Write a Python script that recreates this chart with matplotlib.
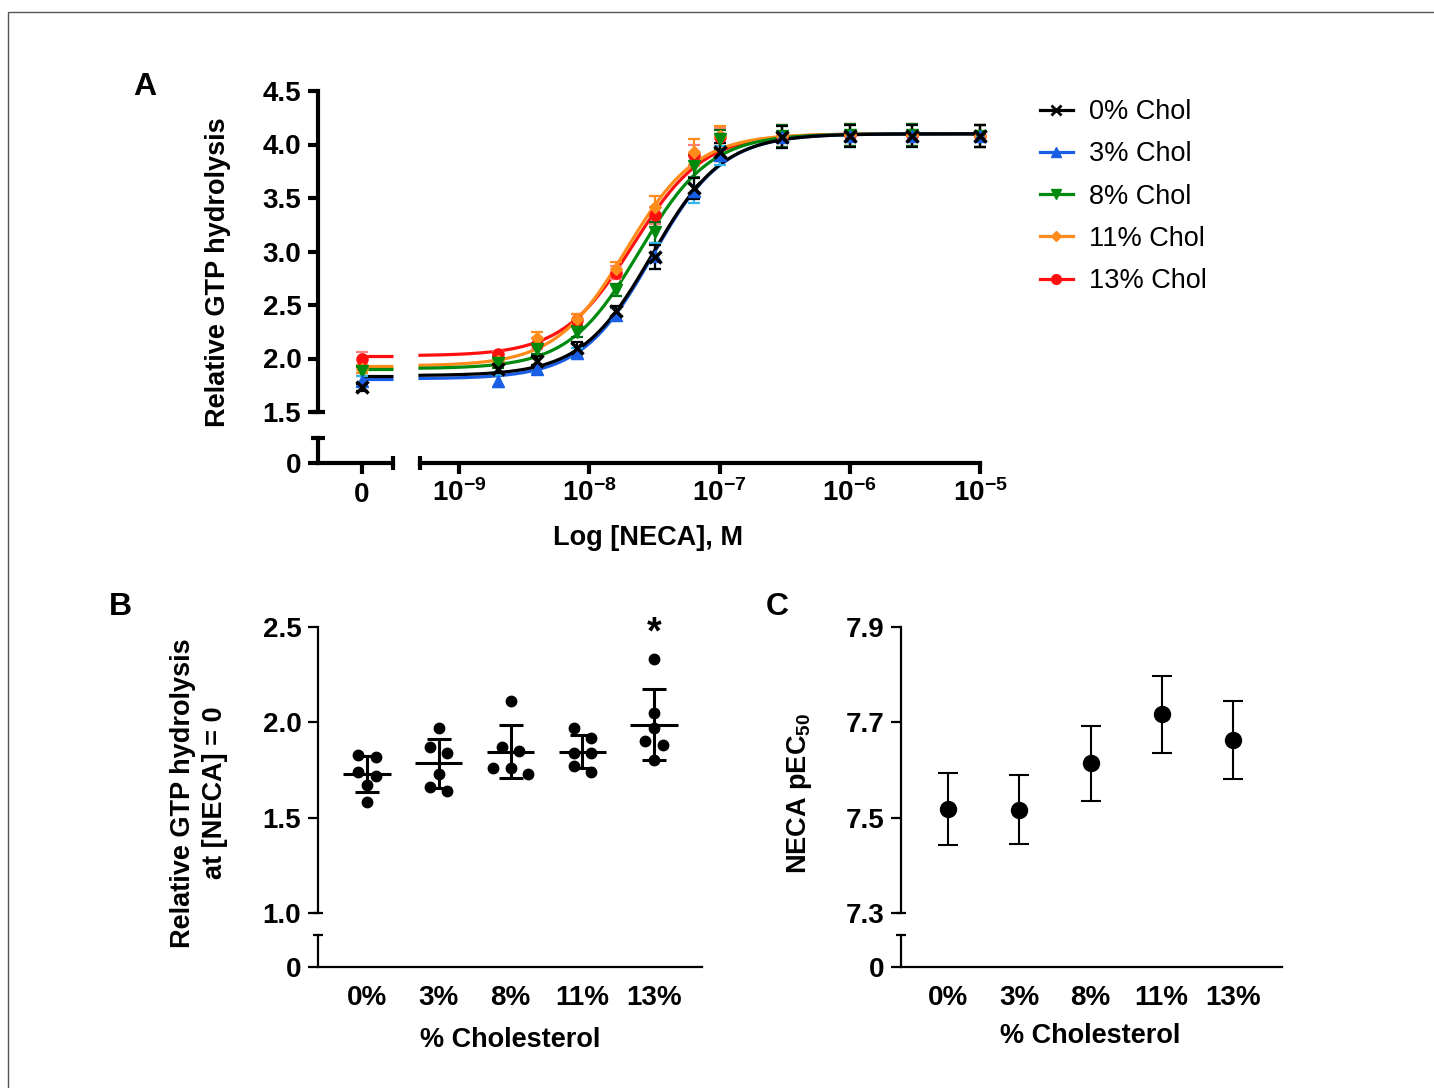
import matplotlib
matplotlib.use("Agg")
import matplotlib.pyplot as plt
import numpy as np
from matplotlib.patches import Rectangle

plt.rcParams['font.family'] = ['Liberation Sans', 'DejaVu Sans']
plt.rcParams['mathtext.fontset'] = 'custom'
plt.rcParams['mathtext.rm'] = 'Liberation Sans'
plt.rcParams['mathtext.bf'] = 'Liberation Sans:bold'

# ---- panel A data: NECA concentration response ----
conc = [0, 2e-9, 4e-9, 8e-9, 1.6e-8, 3.2e-8, 6.4e-8, 1e-7, 3e-7, 1e-6, 3e-6, 1e-5]
series_names = ['0% Chol', '3% Chol', '8% Chol', '11% Chol', '13% Chol']
gtp_0 = [1.73, 1.905, 1.98, 2.10, 2.44, 2.95, 3.59, 3.93, 4.07, 4.08, 4.08, 4.08]
gtp_3 = [1.79, 1.79, 1.90, 2.05, 2.41, 2.96, 3.57, 3.90, 4.07, 4.08, 4.08, 4.08]
gtp_8 = [1.88, 1.96, 2.09, 2.25, 2.64, 3.18, 3.80, 4.05, 4.08, 4.09, 4.09, 4.08]
gtp_11 = [1.90, 1.98, 2.19, 2.37, 2.84, 3.42, 3.93, 4.08, 4.08, 4.09, 4.09, 4.08]
gtp_13 = [2.00, 2.04, 2.14, 2.36, 2.80, 3.34, 3.90, 4.07, 4.08, 4.09, 4.09, 4.08]
sem_0 = [0.03, 0.04, 0.04, 0.05, 0.05, 0.11, 0.10, 0.08, 0.10, 0.10, 0.10, 0.10]
sem_3 = [0.05, 0.06, 0.04, 0.05, 0.06, 0.12, 0.12, 0.09, 0.10, 0.10, 0.10, 0.10]
sem_8 = [0.04, 0.05, 0.05, 0.05, 0.06, 0.10, 0.10, 0.09, 0.10, 0.10, 0.10, 0.10]
sem_11 = [0.04, 0.05, 0.06, 0.05, 0.06, 0.10, 0.12, 0.09, 0.10, 0.10, 0.10, 0.10]
sem_13 = [0.06, 0.03, 0.05, 0.06, 0.06, 0.08, 0.10, 0.08, 0.10, 0.10, 0.10, 0.10]
# fitted curve parameters
fit_bottom = [1.84, 1.81, 1.905, 1.93, 2.025]
fit_top = [4.10, 4.10, 4.10, 4.10, 4.10]
fit_hill = [1.6, 1.6, 1.6, 1.6, 1.6]

# ---- panel B / C data ----
chol_labels = ['0%', '3%', '8%', '11%', '13%']
basal_0 = [1.83, 1.82, 1.74, 1.72, 1.67, 1.58]
basal_3 = [1.97, 1.87, 1.84, 1.73, 1.66, 1.64]
basal_8 = [2.11, 1.87, 1.85, 1.76, 1.76, 1.73]
basal_11 = [1.97, 1.92, 1.84, 1.84, 1.77, 1.74]
basal_13 = [2.33, 2.05, 1.97, 1.90, 1.88, 1.80]
pec50 = [7.518, 7.517, 7.614, 7.717, 7.663]
pec50_err = [0.076, 0.072, 0.079, 0.081, 0.082]

# styles
colors = ['#000000', '#1a5ee6', '#008a0e', '#ff8c1a', '#ff1010']
err_colors = ['#000000', '#33b5ee', '#006f10', '#ff8c1a', '#ff8080']
markers = ['x', '^', 'v', 'D', 'o']
msizes = [8, 8, 8, 6, 8]
TICK_FS = 20
LAB_FS = 19.5

W, H = 1434, 1088
fig = plt.figure(figsize=(W / 100, H / 100), dpi=100)


def px_axes(x0, y0, x1, y1):
    return fig.add_axes([x0 / W, 1 - y1 / H, (x1 - x0) / W, (y1 - y0) / H])


def strip(ax, keep):
    for s in ['left', 'right', 'top', 'bottom']:
        ax.spines[s].set_visible(s in keep)
    ax.patch.set_alpha(0)


def cap(ax, where, size_px, lw):
    # small perpendicular bar marking an axis break
    bb = ax.get_position()
    wpx, hpx = bb.width * W, bb.height * H
    if where in ('top', 'bottom'):
        y = 1 if where == 'top' else 0
        d = size_px / wpx
        ax.plot([-d, d], [y, y], color='k', lw=lw, transform=ax.transAxes,
                clip_on=False, solid_capstyle='butt')
    else:
        x = 1 if where == 'right' else 0
        d = size_px / hpx
        ax.plot([x, x], [-d, d], color='k', lw=lw, transform=ax.transAxes,
                clip_on=False, solid_capstyle='butt')


# figure frame
fig.add_artist(Rectangle((8 / W, -0.01), 1.02, 1 - 12 / H + 0.01, transform=fig.transFigure,
                         fill=False, edgecolor='#555555', lw=1))

# ================= panel A =================
dec = 130.25
u9 = 459
def px_to_u(px):
    return -9 + (px - u9) / dec

u_left, u_right = px_to_u(318), px_to_u(980)
u_zero = px_to_u(362)
u_gap_l, u_gap_r = px_to_u(393), px_to_u(420)

LWA = 3
axA = px_axes(318, 91, 980, 412)
strip(axA, ['left'])
axA.spines['left'].set_linewidth(LWA)
axA.set_xlim(u_left, u_right)
axA.set_ylim(1.5, 4.5)
axA.set_xticks([])
axA.set_yticks([1.5, 2.0, 2.5, 3.0, 3.5, 4.0, 4.5])
axA.set_yticklabels(['1.5', '2.0', '2.5', '3.0', '3.5', '4.0', '4.5'], fontsize=TICK_FS, fontweight='bold')
axA.tick_params(axis='y', length=7, width=LWA, pad=5)
cap(axA, 'bottom', 7, LWA)

ys = [gtp_0, gtp_3, gtp_8, gtp_11, gtp_13]
sems = [sem_0, sem_3, sem_8, sem_11, sem_13]
pec = pec50
xpos = [u_zero] + list(np.log10(conc[1:]))
ucurve = np.linspace(u_gap_r, u_right, 300)
for i in [4, 3, 2, 1, 0]:
    b, t, n = fit_bottom[i], fit_top[i], fit_hill[i]
    yc = b + (t - b) / (1 + 10 ** (n * (-pec[i] - ucurve)))
    axA.plot(ucurve, yc, color=colors[i], lw=2.3, zorder=2)
    axA.plot([u_zero, u_gap_l], [b, b], color=colors[i], lw=2.3, zorder=2,
             solid_capstyle='butt')
for i in [4, 3, 2, 1, 0]:
    axA.errorbar(xpos, ys[i], yerr=sems[i], fmt='none', ecolor=err_colors[i],
                 elinewidth=1.6, capsize=4, capthick=1.6, zorder=3, clip_on=False)
    axA.plot(xpos, ys[i], linestyle='none', marker=markers[i], ms=msizes[i],
             color=colors[i], mec=colors[i], mew=2.5 if markers[i] == 'x' else 1,
             zorder=4, clip_on=False)

# broken lower y segment + left x segment
axA0 = px_axes(318, 438, 393, 463)
strip(axA0, ['left', 'bottom'])
for s in ['left', 'bottom']:
    axA0.spines[s].set_linewidth(LWA)
axA0.set_xlim(u_left, u_gap_l)
axA0.set_ylim(0, 1)
axA0.set_yticks([0])
axA0.set_yticklabels(['0'], fontsize=TICK_FS, fontweight='bold')
axA0.set_xticks([u_zero])
axA0.set_xticklabels(['0'], fontsize=TICK_FS, fontweight='bold')
axA0.tick_params(axis='y', length=7, width=LWA, pad=5)
axA0.tick_params(axis='x', length=8, width=LWA, pad=6)
cap(axA0, 'top', 7, LWA)
cap(axA0, 'right', 7, LWA)

axA1 = px_axes(420, 438, 980, 463)
strip(axA1, ['bottom'])
axA1.spines['bottom'].set_linewidth(LWA)
axA1.set_xlim(u_gap_r, u_right)
axA1.set_ylim(0, 1)
axA1.set_yticks([])
axA1.set_xticks([-9, -8, -7, -6, -5])
axA1.set_xticklabels([r'$\mathbf{10^{%d}}$' % k for k in [-9, -8, -7, -6, -5]], fontsize=TICK_FS)
axA1.tick_params(axis='x', length=8, width=LWA, pad=4)
cap(axA1, 'left', 7, LWA)

fig.text(218 / W, 1 - 272 / H, 'Relative GTP hydrolysis', rotation=90, ha='center', va='center',
         fontsize=LAB_FS, fontweight='bold')
fig.text(648 / W, 1 - 538 / H, 'Log [NECA], M', ha='center', va='center',
         fontsize=LAB_FS, fontweight='bold')
fig.text(145 / W, 1 - 87 / H, 'A', ha='center', va='center', fontsize=23, fontweight='bold')

handles = []
for i in range(5):
    h, = axA.plot([], [], color=colors[i], lw=2.3, marker=markers[i], ms=msizes[i] - 1,
                  mew=2 if markers[i] == 'x' else 1)
    handles.append(h)
fig.legend(handles, series_names, loc='upper left', bbox_to_anchor=(1040 / W, 1 - 99 / H),
           frameon=False, fontsize=LAB_FS, handlelength=1.2, handletextpad=0.6, labelspacing=0.6,
           borderpad=0, borderaxespad=0)

# ================= panel B =================
LWB = 1.6
xB = np.arange(5)
dB = 71.75
axB = px_axes(318, 627, 702, 913)
strip(axB, ['left'])
axB.spines['left'].set_linewidth(LWB)
axB.set_xlim((318 - 367) / dB, (702 - 367) / dB)
axB.set_ylim(1.0, 2.5)
axB.set_xticks([])
axB.set_yticks([1.0, 1.5, 2.0, 2.5])
axB.set_yticklabels(['1.0', '1.5', '2.0', '2.5'], fontsize=TICK_FS, fontweight='bold')
axB.tick_params(axis='y', length=7, width=LWB, pad=5)
cap(axB, 'bottom', 5, LWB)

groups = [basal_0, basal_3, basal_8, basal_11, basal_13]
row_h = 10 / 190.7
step = 17.3 / dB
for gi, g in enumerate(groups):
    vals = sorted(g, reverse=True)
    rows = []
    for v in vals:
        if rows and rows[-1][0] - v < row_h:
            rows[-1].append(v)
        else:
            rows.append([v])
    px, py = [], []
    for r in rows:
        k = len(r)
        for j, v in enumerate(r):
            px.append(gi + (j - (k - 1) / 2) * step)
            py.append(v)
    axB.plot(px, py, 'o', color='k', ms=7.5, zorder=3, clip_on=False)
    m, sd = np.mean(g), np.std(g, ddof=1)
    axB.plot([gi - 0.33, gi + 0.33], [m, m], color='k', lw=2.2, zorder=2, solid_capstyle='butt')
    axB.errorbar([gi], [m], yerr=[sd], fmt='none', ecolor='k', elinewidth=2.2,
                 capsize=8.5, capthick=2.2, zorder=2)
axB.text(4, 2.465, '*', ha='center', va='center', fontsize=27, fontweight='bold')

axB0 = px_axes(318, 935, 702, 967)
strip(axB0, ['left', 'bottom'])
for s in ['left', 'bottom']:
    axB0.spines[s].set_linewidth(LWB)
axB0.set_xlim((318 - 367) / dB, (702 - 367) / dB)
axB0.set_ylim(0, 1)
axB0.set_yticks([0])
axB0.set_yticklabels(['0'], fontsize=TICK_FS, fontweight='bold')
axB0.set_xticks(xB)
axB0.set_xticklabels(chol_labels, fontsize=TICK_FS, fontweight='bold')
axB0.tick_params(axis='y', length=7, width=LWB, pad=5)
axB0.tick_params(axis='x', length=0, pad=13)
cap(axB0, 'top', 5, LWB)

fig.text(199 / W, 1 - 793 / H, 'Relative GTP hydrolysis\nat [NECA] = 0', rotation=90,
         ha='center', va='center', fontsize=LAB_FS, fontweight='bold', linespacing=1.3)
fig.text(510 / W, 1 - 1040 / H, '% Cholesterol', ha='center', va='center',
         fontsize=LAB_FS, fontweight='bold')
fig.text(120 / W, 1 - 607 / H, 'B', ha='center', va='center', fontsize=23, fontweight='bold')

# ================= panel C =================
dC = 71.25
axC = px_axes(901, 627, 1282, 913)
strip(axC, ['left'])
axC.spines['left'].set_linewidth(LWB)
axC.set_xlim((901 - 948) / dC, (1282 - 948) / dC)
axC.set_ylim(7.3, 7.9)
axC.set_xticks([])
axC.set_yticks([7.3, 7.5, 7.7, 7.9])
axC.set_yticklabels(['7.3', '7.5', '7.7', '7.9'], fontsize=TICK_FS, fontweight='bold')
axC.tick_params(axis='y', length=7, width=LWB, pad=5)
cap(axC, 'bottom', 5, LWB)
axC.errorbar(xB, pec50, yerr=pec50_err, fmt='o', color='k', ms=11.5, elinewidth=1.5,
             capsize=7, capthick=1.5, zorder=3)

axC0 = px_axes(901, 935, 1282, 967)
strip(axC0, ['left', 'bottom'])
for s in ['left', 'bottom']:
    axC0.spines[s].set_linewidth(LWB)
axC0.set_xlim((901 - 948) / dC, (1282 - 948) / dC)
axC0.set_ylim(0, 1)
axC0.set_yticks([0])
axC0.set_yticklabels(['0'], fontsize=TICK_FS, fontweight='bold')
axC0.set_xticks(xB)
axC0.set_xticklabels(chol_labels, fontsize=TICK_FS, fontweight='bold')
axC0.tick_params(axis='y', length=7, width=LWB, pad=5)
axC0.tick_params(axis='x', length=0, pad=13)
cap(axC0, 'top', 5, LWB)

fig.text(800 / W, 1 - 793 / H, r'NECA pEC$_{\mathbf{50}}$', rotation=90, ha='center', va='center',
         fontsize=LAB_FS, fontweight='bold')
fig.text(1090 / W, 1 - 1036 / H, '% Cholesterol', ha='center', va='center',
         fontsize=LAB_FS, fontweight='bold')
fig.text(777 / W, 1 - 607 / H, 'C', ha='center', va='center', fontsize=23, fontweight='bold')

fig.savefig('out.png', dpi=100)
